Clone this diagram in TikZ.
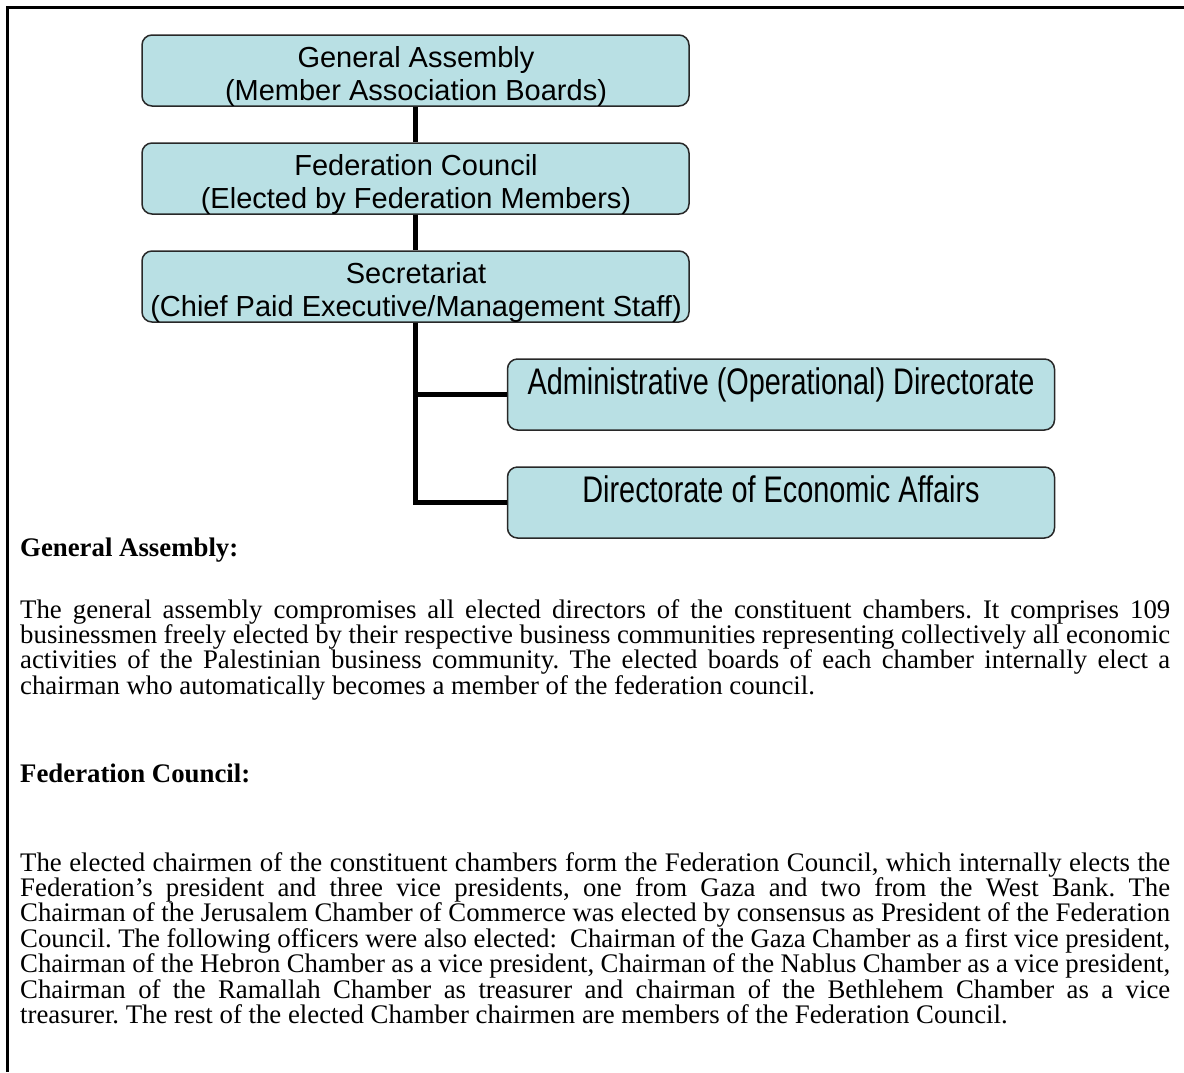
\documentclass[tikz,border=0pt]{standalone}
\usepackage{fontspec}
\setmainfont{Liberation Serif}
\setsansfont{Liberation Sans}
\newfontfamily\narrowsans[FakeStretch=0.78]{Liberation Sans}
\definecolor{boxfill}{RGB}{185,224,228}
\definecolor{boxline}{RGB}{40,40,40}
% paragraph settings for the justified running text
\newcommand\bodysetup{\frenchspacing\hyphenpenalty=10000 \tolerance=10000
  \spaceskip=.25em plus .3em minus .12em\relax}
\begin{document}
\begin{tikzpicture}[x=1pt,y=-1pt,
  orgbox/.style={draw=boxline, line width=1.5pt, fill=boxfill, rounded corners=10pt,
    minimum width=547pt, minimum height=71pt, inner sep=0pt},
  boxtext/.style={font=\sffamily\fontsize{29}{33}\selectfont, align=center, inner sep=0pt},
  subtext/.style={font=\narrowsans\fontsize{37}{40}\selectfont, inner sep=0pt, anchor=base},
  link/.style={line width=4.5pt},
  frame/.style={line width=3pt},
  heading/.style={font=\bfseries\fontsize{26.8}{25.4}\selectfont, inner sep=0pt, anchor=base west},
  bodytext/.style={font=\fontsize{26.8}{25.4}\selectfont,
    inner sep=0pt, anchor=base west, text width=1150pt, align=justify}]
\useasboundingbox (0,0) rectangle (1184,1072);

% page frame (top and left rules)
\coordinate (tl) at (7,7);
\coordinate (tr) at (1184,7);
\coordinate (bl) at (7,1072);
\draw[frame] (tr) -- (tl) -- (bl);

% organisation chart boxes
\node[orgbox] (gen) at (415.5,70.5) {};
\node[orgbox] (fed) at (415.5,178.5) {};
\node[orgbox] (sec) at (415.5,286.5) {};
\node[orgbox] (adm) at (781,394.5) {};
\node[orgbox] (eco) at (781,502.5) {};

% connectors
\draw[link] (gen) -- (fed);
\draw[link] (fed) -- (sec);
\draw[link] (sec.south) |- (adm.west);
\draw[link] (sec.south) |- (eco.west);

% box labels
\node[boxtext] (genT) at (416,76.25) {General Assembly\\(Member Association Boards)};
\node[boxtext] (fedT) at (416,184.25) {Federation Council\\(Elected by Federation Members)};
\node[boxtext] (secT) at (416,292.25) {Secretariat\\(Chief Paid Executive/Management Staff)};
\node[subtext] (admT) at (adm.center) {Administrative (Operational) Directorate};
\node[subtext] (ecoT) at (eco.center) {Directorate of Economic Affairs};

% explanatory text
\node[heading] (h1) at (20,556) {General Assembly:};
\node[bodytext] (p1) at (20,618) {\bodysetup
The general assembly compromises all elected directors of the constituent chambers. It comprises 109\linebreak
businessmen freely elected by their respective business communities representing collectively all economic\linebreak
activities of the Palestinian business community. The elected boards of each chamber internally elect a\linebreak
chairman who automatically becomes a member of the federation council.};

\node[heading] (h2) at (20,782) {Federation Council:};
\node[bodytext] (p2) at (20,871) {\bodysetup
The elected chairmen of the constituent chambers form the Federation Council, which internally elects the\linebreak
Federation’s president and three vice presidents, one from Gaza and two from the West Bank. The\linebreak
Chairman of the Jerusalem Chamber of Commerce was elected by consensus as President of the Federation\linebreak
Council. The following officers were also elected:\ \ Chairman of the Gaza Chamber as a first vice president,\linebreak
Chairman of the Hebron Chamber as a vice president, Chairman of the Nablus Chamber as a vice president,\linebreak
Chairman of the Ramallah Chamber as treasurer and chairman of the Bethlehem Chamber as a vice\linebreak
treasurer. The rest of the elected Chamber chairmen are members of the Federation Council.};
\end{tikzpicture}
\end{document}
